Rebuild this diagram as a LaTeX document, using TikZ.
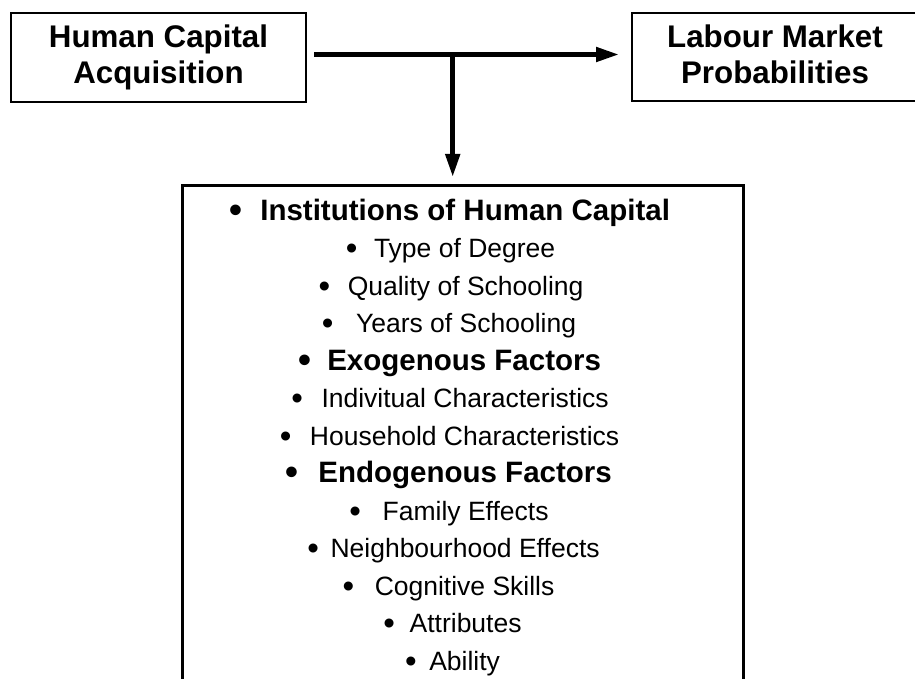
\documentclass[tikz,border=0pt]{standalone}
\usepackage{fontspec}
\setmainfont{Liberation Sans}
\usetikzlibrary{arrows.meta,calc}
% enlarged bullet followed by a fixed gap
\newcommand\bulletgap[1]{\raisebox{-0.08em}{\scalebox{1.25}{\textbullet}}\hspace*{#1}}
\begin{document}
\begin{tikzpicture}[x=1pt,y=-1pt,
  topbox/.style={draw, line width=2pt, align=center, inner sep=0pt,
    font=\fontsize{31.3}{36.3}\selectfont\bfseries},
  listbox/.style={draw, line width=3pt, inner sep=0pt},
  entry/.style={anchor=base, inner sep=0pt, font=\fontsize{26.5}{30}\selectfont},
  heading/.style={anchor=base, inner sep=0pt, font=\fontsize{29.5}{34}\selectfont\bfseries},
  flow/.style={line width=4.8pt, -{Triangle[length=23pt,width=14pt]}}
]
\useasboundingbox (0,0) rectangle (915,679);
\clip (0,0) rectangle (915,679);

% the two boxes of the top row
\node[topbox, minimum width=295pt, minimum height=88.5pt] (hca) at (158.5,57.75)
  {Human Capital\\Acquisition};
\node[topbox, minimum width=286pt, minimum height=88pt] (lmp) at (775,57.5)
  {Labour Market\\Probabilities\vphantom{q}};

% the list box, running past the lower edge
\node[listbox, minimum width=561pt, minimum height=540pt, anchor=north] (list) at (462.5,184) {};

% connectors
\coordinate (split) at (452.7,54.5);
\draw[flow] ($(hca.east |- split)+(7,0)$) -- ($(lmp.west |- split)+(-12,0)$);
\draw[flow] (split) -- ($(list.north -| split)+(0,-7)$);

% list entries
\node[heading] (i1)  at (450,220)   {\bulletgap{17.4pt}Institutions of Human Capital};
\node[entry]   (i2)  at (450.5,257.5) {\bulletgap{16.6pt}Type of Degree};
\node[entry]   (i3)  at (451,295)   {\bulletgap{17.6pt}Quality of Schooling};
\node[entry]   (i4)  at (449,332.5) {\bulletgap{22.6pt}Years of Schooling};
\node[heading] (i5)  at (450,370)   {\bulletgap{15.4pt}Exogenous Factors};
\node[entry]   (i6)  at (450,407.5) {\bulletgap{18.6pt}Indivitual Characteristics};
\node[entry]   (i7)  at (449.5,445) {\bulletgap{18.6pt}Household Characteristics};
\node[heading] (i8)  at (448.7,482.5) {\bulletgap{19.9pt}Endogenous Factors};
\node[entry]   (i9)  at (449,520)   {\bulletgap{21.6pt}Family Effects};
\node[entry]   (i10) at (453.5,557.5) {\bulletgap{11.6pt}Neighbourhood Effects};
\node[entry]   (i11) at (448.5,595) {\bulletgap{20.6pt}Cognitive Skills};
\node[entry]   (i12) at (452.5,632.5) {\bulletgap{14.6pt}Attributes};
\node[entry]   (i13) at (452.5,670) {\bulletgap{12.6pt}Ability};
\end{tikzpicture}
\end{document}
